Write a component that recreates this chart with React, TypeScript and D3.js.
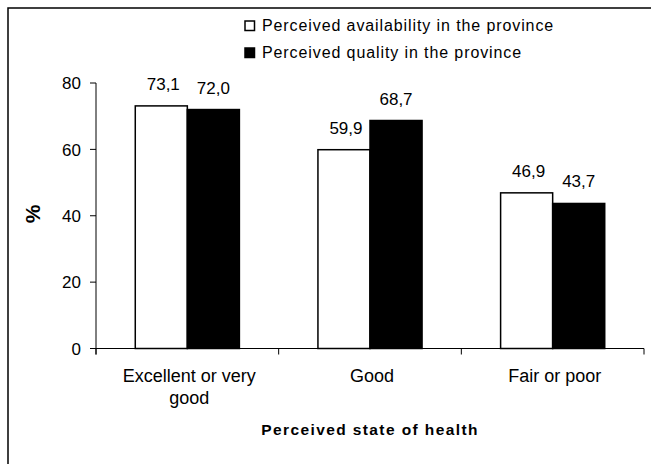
import * as d3 from 'd3'
import { useEffect, useRef } from 'react'

const categories = ['Excellent or very good', 'Good', 'Fair or poor']
const categoryLines = [['Excellent or very', 'good'], ['Good'], ['Fair or poor']]
const seriesNames = ['Perceived availability in the province', 'Perceived quality in the province']
const availability = [73.1, 59.9, 46.9]
const quality = [72.0, 68.7, 43.7]
const yTicks = [0, 20, 40, 60, 80]

const width = 651
const height = 464
const marginLeft = 96
const plotRight = 644
const plotTop = 83
const plotBottom = 348.5
const font = "'Liberation Sans', Arial, sans-serif"

export default function App() {
  const ref = useRef(null)

  useEffect(() => {
    const svg = d3.select(ref.current)
    svg.selectAll('*').remove()

    // outer frame, cropped by the picture on the right and bottom
    svg
      .append('rect')
      .attr('x', 8)
      .attr('y', 8)
      .attr('width', 700)
      .attr('height', 500)
      .attr('fill', 'none')
      .attr('stroke', '#000')
      .attr('stroke-width', 1.5)

    const x0 = d3
      .scaleBand<string>()
      .domain(categories)
      .range([marginLeft, plotRight])
      .paddingInner(0.43)
      .paddingOuter(0.215)
    const x1 = d3.scaleBand<number>().domain([0, 1]).range([0, x0.bandwidth()])
    const y = d3.scaleLinear([0, 80], [plotBottom, plotTop])

    const rows = categories.map((c, i) => ({ c, i, values: [availability[i], quality[i]] }))

    // bars
    const groups = svg
      .append('g')
      .selectAll('g')
      .data(rows)
      .join('g')
      .attr('transform', d => `translate(${x0(d.c)},0)`)

    groups
      .selectAll('rect')
      .data(d => d.values.map((v, k) => ({ v, k })))
      .join('rect')
      .attr('x', d => x1(d.k)!)
      .attr('y', d => y(d.v))
      .attr('width', x1.bandwidth())
      .attr('height', d => y(0) - y(d.v))
      .attr('fill', d => (d.k === 0 ? '#fff' : '#000'))
      .attr('stroke', '#000')
      .attr('stroke-width', 1.5)

    groups
      .selectAll('text')
      .data(d => d.values.map((v, k) => ({ v, k })))
      .join('text')
      .attr('x', d => x1(d.k)! + x1.bandwidth() / 2 + (d.k === 0 ? 2 : 0))
      .attr('y', d => y(d.v) - 16)
      .attr('text-anchor', 'middle')
      .attr('font-family', font)
      .attr('font-size', 17)
      .text(d => d.v.toFixed(1).replace('.', ','))

    // y axis
    const yAxis = svg.append('g').attr('transform', `translate(${marginLeft},0)`)
    yAxis
      .append('line')
      .attr('x1', 0)
      .attr('x2', 0)
      .attr('y1', y(80))
      .attr('y2', y(0) + 6)
      .attr('stroke', '#000')
    yAxis
      .selectAll('g')
      .data(yTicks)
      .join('g')
      .attr('transform', d => `translate(0,${y(d)})`)
      .call(g => g.append('line').attr('x1', -6).attr('x2', 0).attr('stroke', '#000'))
      .call(g =>
        g
          .append('text')
          .attr('x', -15)
          .attr('dy', '0.36em')
          .attr('text-anchor', 'end')
          .attr('font-family', font)
          .attr('font-size', 17)
          .text(d => d)
      )

    // x axis
    const xAxis = svg.append('g').attr('transform', `translate(0,${plotBottom})`)
    xAxis
      .append('line')
      .attr('x1', marginLeft)
      .attr('x2', plotRight)
      .attr('stroke', '#000')
    const bounds = [marginLeft, ...categories.map(c => x0(c)! - (x0.step() - x0.bandwidth()) / 2 + x0.step())]
    xAxis
      .selectAll('line.tick')
      .data(bounds)
      .join('line')
      .attr('class', 'tick')
      .attr('x1', d => d)
      .attr('x2', d => d)
      .attr('y1', 0)
      .attr('y2', 6)
      .attr('stroke', '#000')

    xAxis
      .selectAll('text')
      .data(rows)
      .join('text')
      .attr('text-anchor', 'middle')
      .attr('font-family', font)
      .attr('font-size', 18)
      .attr('transform', d => `translate(${x0(d.c)! + x0.bandwidth() / 2 + 2},33)`)
      .selectAll('tspan')
      .data(d => categoryLines[d.i])
      .join('tspan')
      .attr('x', 0)
      .attr('y', (_, j) => j * 22)
      .text(d => d)

    // axis titles
    svg
      .append('text')
      .attr('x', (marginLeft + plotRight) / 2)
      .attr('y', 435)
      .attr('text-anchor', 'middle')
      .attr('font-family', font)
      .attr('font-weight', 'bold')
      .attr('font-size', 15.5)
      .attr('letter-spacing', 1.4)
      .text('Perceived state of health')

    svg
      .append('text')
      .attr('transform', 'translate(40,214) rotate(-90)')
      .attr('text-anchor', 'middle')
      .attr('font-family', font)
      .attr('font-weight', 'bold')
      .attr('font-size', 21)
      .text('%')

    // legend
    const legend = svg
      .append('g')
      .selectAll('g')
      .data(seriesNames)
      .join('g')
      .attr('transform', (_, i) => `translate(245,${21 + i * 27})`)
    legend
      .append('rect')
      .attr('width', 9.5)
      .attr('height', 9.5)
      .attr('fill', (_, i) => (i === 0 ? '#fff' : '#000'))
      .attr('stroke', '#000')
      .attr('stroke-width', 1.5)
    legend
      .append('text')
      .attr('x', 17)
      .attr('y', 9.5)
      .attr('font-family', font)
      .attr('font-size', 16)
      .attr('letter-spacing', 0.9)
      .text(d => d)
  }, [])

  return (
    <svg
      ref={ref}
      width={width}
      height={height}
      viewBox={`0 0 ${width} ${height}`}
      style={{ position: 'absolute', left: 0, top: 0, background: '#fff' }}
    ></svg>
  )
}
